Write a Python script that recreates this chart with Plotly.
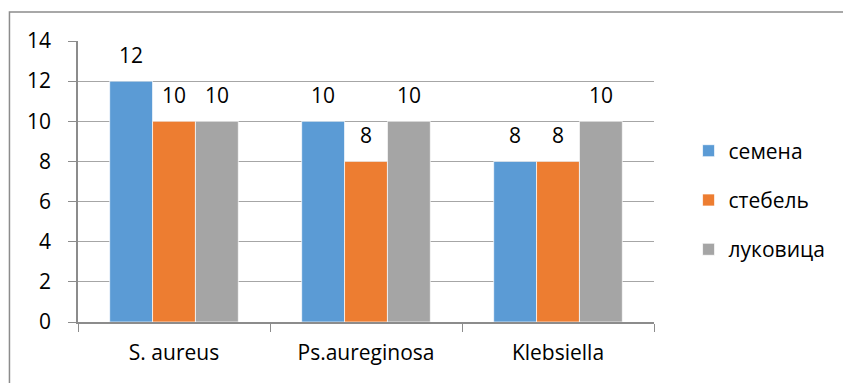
import plotly.graph_objects as go

categories = ["S. aureus", "Ps.aureginosa", "Klebsiella"]
series_names = ["семена", "стебель", "луковица"]
semena = [12, 10, 8]
stebel = [10, 8, 8]
lukovica = [10, 10, 10]
series_values = [semena, stebel, lukovica]
colors = ["#5B9BD5", "#ED7D31", "#A5A5A5"]
y_ticks = [0, 2, 4, 6, 8, 10, 12, 14]

FONT = "Open Sans"
FS = 21
fig = go.Figure()
for i, (name, vals, col) in enumerate(zip(series_names, series_values, colors)):
    fig.add_trace(go.Bar(
        x=categories, y=vals, name=name, legendgroup=name,
        marker=dict(color=col, line=dict(color="white", width=0.7)),
    ))

# data labels
bar_px = 43.2
for i, vals in enumerate(series_values):
    for c, v in zip(categories, vals):
        fig.add_annotation(x=c, y=v, text=str(v), showarrow=False,
                           xshift=(i - 1) * bar_px, yshift=26,
                           font=dict(family=FONT, size=FS, color="#000"))

fig.add_shape(type="rect", xref="paper", yref="paper",
              x0=-0.119, x1=2, y0=-1, y1=1.103,
              line=dict(color="#8C8C8C", width=1.5), layer="below")

fig.update_layout(
    width=843, height=383,
    margin=dict(l=78, r=185, t=41, b=61),
    paper_bgcolor="white", plot_bgcolor="white",
    barmode="group", bargap=0.33, bargroupgap=0,
    font=dict(family=FONT, size=FS, color="#000"),
    legend=dict(x=1.06, xanchor="left", y=0.434, yanchor="middle",
                tracegroupgap=19, font=dict(family=FONT, size=FS),
                itemwidth=30),
    showlegend=True,
)
fig.update_xaxes(showline=True, linecolor="#8C8C8C", linewidth=1.5,
                 ticks="outside", tickson="boundaries", ticklen=8,
                 tickcolor="#8C8C8C", showgrid=False,
                 ticklabelstandoff=11)
fig.update_yaxes(range=[0, 14], tickvals=y_ticks, showline=True,
                 linecolor="#8C8C8C", linewidth=1.5, ticks="outside",
                 ticklen=8, tickcolor="#8C8C8C", showgrid=True,
                 gridcolor="#A6A6A6", gridwidth=1, zeroline=False,
                 ticklabelstandoff=13)

fig.write_html("out.html", config={"displayModeBar": False},
               post_script="document.body.style.margin='0';")
